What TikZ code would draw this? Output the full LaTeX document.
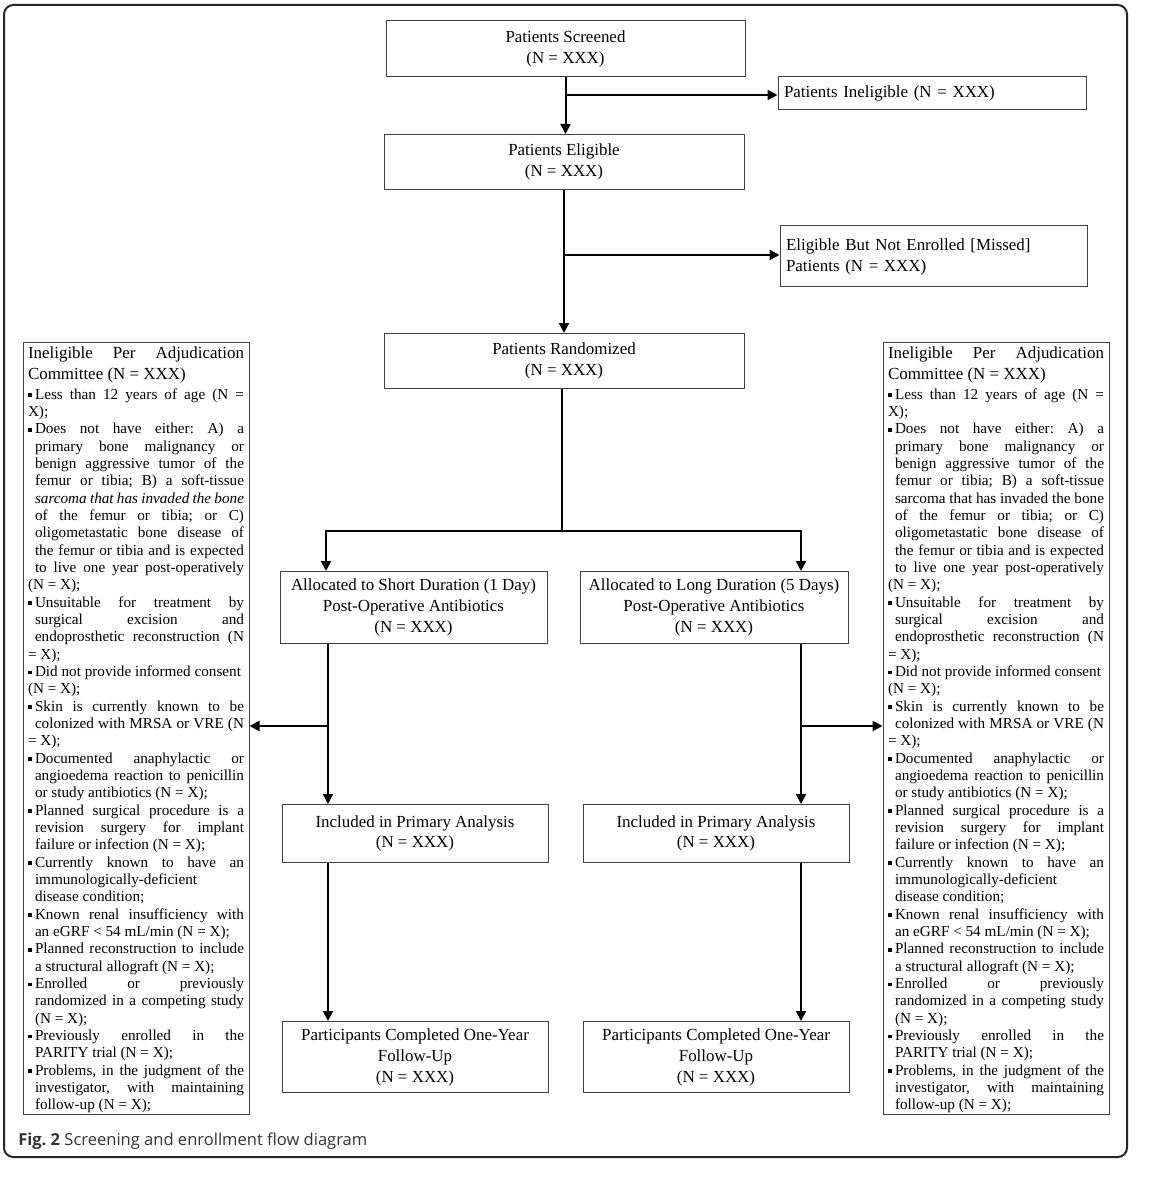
\documentclass[tikz,border=0pt]{standalone}
\usepackage{fontspec}
\setmainfont{Liberation Serif}
\newfontfamily\capfont{Open Sans}
\usetikzlibrary{arrows.meta}
\definecolor{capgray}{HTML}{333333}
\frenchspacing
\newcommand\bul{\makebox[5.25pt][l]{\raisebox{1.8pt}{\rule{2.7pt}{2.7pt}}}}
\newcommand\FJ[1]{\hbox to\hsize{\bul#1}}
\newcommand\FR[1]{\hbox to\hsize{\bul#1\hfil}}
\newcommand\CJ[1]{\hbox to\hsize{\hskip5.25pt#1}}
\newcommand\CR[1]{\hbox to\hsize{\hskip5.25pt#1\hfil}}
\newcommand\CO[1]{\hbox to\hsize{#1\hfil}}
\newcommand\HJ[1]{\hbox to\hsize{#1}}
\newcommand\HR[1]{\hbox to\hsize{#1\hfil}}
\newcommand\adjlist[1]{%
\begin{minipage}[t][573pt][t]{162pt}\hbadness=10000\hfuzz=20pt\frenchspacing
\fontsize{12.7}{15.75}\selectfont
\HJ{Ineligible Per Adjudication}
\HR{Committee (N = XXX)}
\fontsize{11.4}{13}\selectfont
\vspace{2pt}
\FJ{Less than 12 years of age (N =}
\CO{X);}
\FJ{Does not have either: A) a}
\CJ{primary bone malignancy or}
\CJ{benign aggressive tumor of the}
\CJ{femur or tibia; B) a soft-tissue}
\CJ{#1sarcoma that has invaded the bone}
\CJ{of the femur or tibia; or C)}
\CJ{oligometastatic bone disease of}
\CJ{the femur or tibia and is expected}
\CJ{to live one year post-operatively}
\CO{(N = X);}
\FJ{Unsuitable for treatment by}
\CJ{surgical excision and}
\CJ{endoprosthetic reconstruction (N}
\CO{= X);}
\FR{Did not provide informed consent}
\CO{(N = X);}
\FJ{Skin is currently known to be}
\CJ{colonized with MRSA or VRE (N}
\CO{= X);}
\FJ{Documented anaphylactic or}
\CJ{angioedema reaction to penicillin}
\CR{or study antibiotics (N = X);}
\FJ{Planned surgical procedure is a}
\CJ{revision surgery for implant}
\CR{failure or infection (N = X);}
\FJ{Currently known to have an}
\CR{immunologically-deficient}
\CR{disease condition;}
\FJ{Known renal insufficiency with}
\CR{an eGRF < 54 mL/min (N = X);}
\FJ{Planned reconstruction to include}
\CR{a structural allograft (N = X);}
\FJ{Enrolled or previously}
\CJ{randomized in a competing study}
\CR{(N = X);}
\FJ{Previously enrolled in the}
\CR{PARITY trial (N = X);}
\FJ{Problems, in the judgment of the}
\CJ{investigator, with maintaining}
\CR{follow-up (N = X);}
\end{minipage}}
\begin{document}
\begin{tikzpicture}[x=0.75pt,y=-0.75pt,
  box/.style={draw=black!75, line width=0.75pt, rectangle, inner sep=0pt, align=center,
    font=\fontsize{12.7}{15.2}\selectfont},
  lbox/.style={draw=black!75, line width=0.75pt, rectangle, inner xsep=4.5pt, inner ysep=0pt,
    align=left, font=\fontsize{12.7}{15.75}\selectfont},
  sidebox/.style={draw=black!75, line width=0.75pt, rectangle, inner xsep=3.75pt, inner ysep=3pt,
    anchor=north},
  conn/.style={line width=1.5pt, -{Triangle[length=7.5pt,width=7.5pt]}},
  plainln/.style={line width=1.5pt}]
\useasboundingbox (0,0) rectangle (1152,1180);
\draw[line width=1.5pt, black!85, rounded corners=7pt] (4,5) rectangle (1127,1157);

\node[box, minimum width=269.25pt, minimum height=42pt] (scr) at (565.5,49) {Patients Screened\\(N = XXX)};
\node[lbox, text width=222pt, minimum height=24.75pt] (inel) at (932,93.5) {Patients Ineligible (N = XXX)};
\node[box, minimum width=270pt, minimum height=41.25pt] (eli) at (564,162) {Patients Eligible\\(N = XXX)};
\node[lbox, text width=221.25pt, minimum height=45.75pt] (miss) at (933.5,256.5) {Eligible But Not Enrolled [Missed]\\Patients (N = XXX)};
\node[box, minimum width=270pt, minimum height=41.25pt] (rnd) at (564,361) {Patients Randomized\\(N = XXX)};

\node[box, minimum width=200.25pt, minimum height=54pt, font=\fontsize{12.7}{15.9}\selectfont] (shrt) at (413.5,607.5) {Allocated to Short Duration (1 Day)\\Post-Operative Antibiotics\\(N = XXX)};
\node[box, minimum width=201pt, minimum height=54pt, font=\fontsize{12.7}{15.9}\selectfont] (lng) at (714,607.5) {Allocated to Long Duration (5 Days)\\Post-Operative Antibiotics\\(N = XXX)};
\node[box, minimum width=199.5pt, minimum height=43.5pt] (incl) at (415,833.5) {Included in Primary Analysis\\(N = XXX)};
\node[box, minimum width=199.5pt, minimum height=43.5pt] (incr) at (716,833.5) {Included in Primary Analysis\\(N = XXX)};
\node[box, minimum width=199.5pt, minimum height=53.25pt, font=\fontsize{12.7}{15.75}\selectfont] (compl) at (415,1057) {Participants Completed One-Year\\Follow-Up\\(N = XXX)};
\node[box, minimum width=199.5pt, minimum height=53.25pt, font=\fontsize{12.7}{15.75}\selectfont] (compr) at (716,1057) {Participants Completed One-Year\\Follow-Up\\(N = XXX)};

\node[sidebox] (ladj) at (136,342) {\adjlist{\itshape}};
\node[sidebox] (radj) at (996,342) {\adjlist{}};

\node[anchor=base west, inner sep=0pt, text=capgray, font=\capfont\fontsize{12.4}{15}\selectfont] (cap) at (18,1145) {\textbf{Fig. 2} Screening and enrollment flow diagram};

% connectors
\coordinate (split) at (562,531);
\coordinate (sl) at (326,531);
\coordinate (sr) at (801,531);
\coordinate (cl) at (328,726);
\coordinate (cr) at (801,726);

\draw[conn] (scr.south) -- (scr.south |- eli.north);
\draw[conn] (scr.south |- 0,95) -- (inel.west |- 0,95);
\draw[conn] (eli.south) -- (eli.south |- rnd.north);
\draw[conn] (eli.south |- 0,255) -- (miss.west |- 0,255);
\draw[plainln] (rnd.south -| split) -- (split);
\draw[conn] (split) -| (shrt.north -| sl);
\draw[conn] (split) -| (lng.north -| sr);
\draw[conn] (shrt.south -| cl) -- (incl.north -| cl);
\draw[conn] (cl) -- (ladj.east |- cl);
\draw[conn] (incl.south -| cl) -- (compl.north -| cl);
\draw[conn] (lng.south -| cr) -- (incr.north -| cr);
\draw[conn] (cr) -- (radj.west |- cr);
\draw[conn] (incr.south -| cr) -- (compr.north -| cr);
\end{tikzpicture}
\end{document}
